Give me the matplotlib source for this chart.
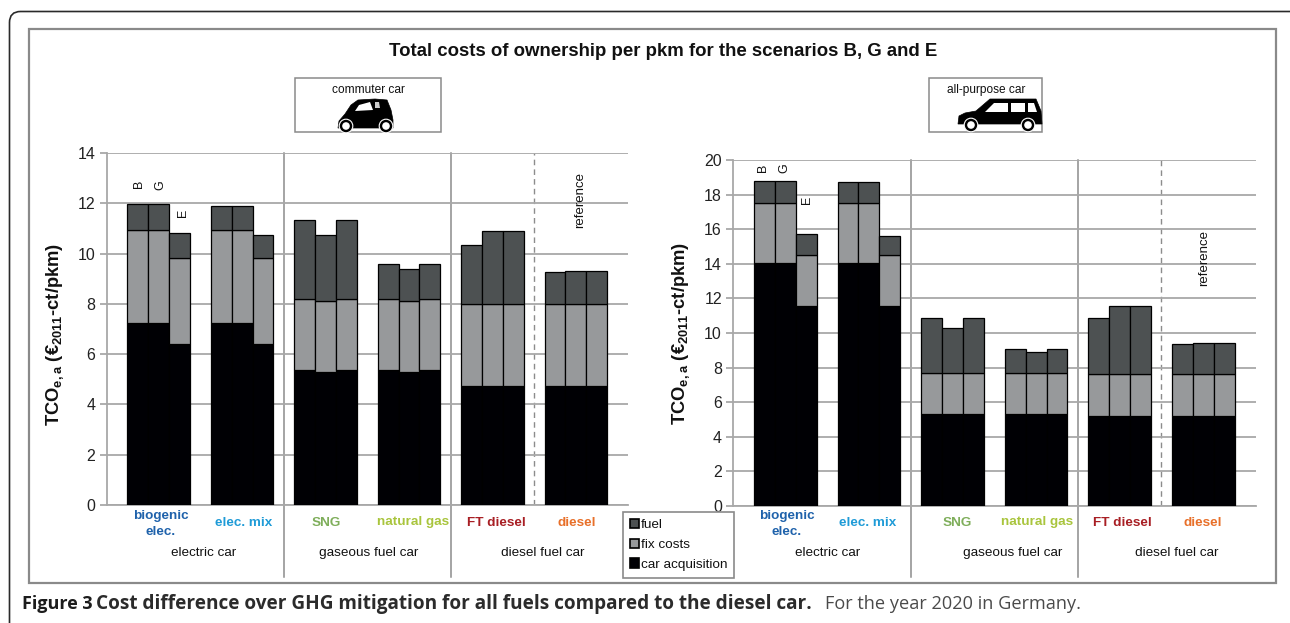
import matplotlib
matplotlib.use("Agg")
import matplotlib.pyplot as plt
import numpy as np
from matplotlib.patches import FancyBboxPatch, Rectangle, Circle, Polygon, Patch

plt.rcParams['font.family'] = ['Liberation Sans', 'DejaVu Sans']
plt.rcParams['mathtext.fontset'] = 'custom'
plt.rcParams['mathtext.bf'] = 'Liberation Sans:bold'
plt.rcParams['mathtext.rm'] = 'Liberation Sans'

# ---------- data (three bars per group: scenarios B, G, E) ----------
categories = ["biogenic\nelec.", "elec. mix", "SNG", "natural gas", "FT diesel", "diesel"]
cat_colors = ["#1f62ab", "#1f9bd7", "#7fae5b", "#a9c53d", "#a81f24", "#e8702a"]
groups = ["electric car", "gaseous fuel car", "diesel fuel car"]
scenarios = ["B", "G", "E"]
series = ["fuel", "fix costs", "car acquisition"]

left_car = [7.25, 7.25, 6.40, 7.25, 7.25, 6.40, 5.37, 5.28, 5.37,
            5.37, 5.28, 5.37, 4.72, 4.72, 4.72, 4.72, 4.72, 4.72]
left_fix = [3.68, 3.68, 3.43, 3.68, 3.68, 3.43, 2.83, 2.84, 2.83,
            2.83, 2.84, 2.83, 3.28, 3.28, 3.28, 3.28, 3.28, 3.28]
left_fuel = [1.04, 1.04, 0.97, 0.95, 0.95, 0.89, 3.12, 2.61, 3.12,
             1.38, 1.25, 1.38, 2.35, 2.90, 2.90, 1.27, 1.30, 1.30]

right_car = [14.05, 14.05, 11.55, 14.05, 14.05, 11.55, 5.30, 5.30, 5.30,
             5.30, 5.30, 5.30, 5.20, 5.20, 5.20, 5.20, 5.20, 5.20]
right_fix = [3.45, 3.45, 2.95, 3.45, 3.45, 2.95, 2.40, 2.40, 2.40,
             2.40, 2.40, 2.40, 2.45, 2.45, 2.45, 2.45, 2.45, 2.45]
right_fuel = [1.30, 1.30, 1.20, 1.20, 1.20, 1.10, 3.15, 2.60, 3.15,
              1.40, 1.20, 1.40, 3.20, 3.90, 3.90, 1.72, 1.77, 1.77]

colors = {"fuel": "#4d5152", "fix costs": "#97999b", "car acquisition": "#000004"}
GRID = "#a8a8a8"

fig = plt.figure(figsize=(12.9, 6.23), dpi=100, facecolor="white")
W, H = 1290, 623

ov = fig.add_axes([0, 0, 1, 1], zorder=0)
ov.set_xlim(0, W); ov.set_ylim(H, 0); ov.axis("off")
top = fig.add_axes([0, 0, 1, 1], zorder=5)
top.set_xlim(0, W); top.set_ylim(H, 0); top.axis("off"); top.patch.set_alpha(0)

ov.add_patch(FancyBboxPatch((9.5, 11.5), 1400, 800, boxstyle="round,pad=0,rounding_size=11",
                            fc="white", ec="#2a2a2a", lw=1.2, mutation_aspect=1))
ov.add_patch(Rectangle((29, 29), 1247, 554, fc="white", ec="#8a8a8a", lw=1.6))


def make_panel(x0, x1, ytop, ybot, ymax, step, car, fix, fuel):
    ax = fig.add_axes([x0 / W, 1 - ybot / H, (x1 - x0) / W, (ybot - ytop) / H], zorder=2)
    ax.patch.set_alpha(0)
    ax.set_xlim(0, 25); ax.set_ylim(0, ymax)
    xs = []
    for g in range(6):
        xs += [1.5 + 4 * g, 2.5 + 4 * g, 3.5 + 4 * g]
    xs = np.array(xs)
    car, fix, fuel = map(np.array, (car, fix, fuel))
    kw = dict(width=1, edgecolor="black", linewidth=0.9, zorder=3)
    ax.bar(xs, car, color=colors["car acquisition"], **kw)
    ax.bar(xs, fix, bottom=car, color=colors["fix costs"], **kw)
    ax.bar(xs, fuel, bottom=car + fix, color=colors["fuel"], **kw)
    ax.set_yticks(np.arange(0, ymax + 1, step))
    ax.set_xticks([])
    ax.tick_params(axis="y", length=5, width=1.3, color=GRID, labelsize=11.5, pad=3, labelcolor="#222222")
    ax.grid(axis="y", color=GRID, lw=1.3, zorder=0)
    for s in ("top", "right"):
        ax.spines[s].set_visible(False)
    for s in ("left", "bottom"):
        ax.spines[s].set_color(GRID); ax.spines[s].set_linewidth(1.3)
    ax.axvline(20.5, color="#8c8c8c", lw=1.0, ls=(0, (4, 3)), zorder=1)
    for v in (8.5, 16.5):
        px = x0 + v * (x1 - x0) / 25
        ov.plot([px, px], [ytop, 577], color="#8c8c8c", lw=1.1, zorder=1)
    return ax


axL = make_panel(106.5, 628, 153, 505, 14, 2, left_car, left_fix, left_fuel)
axR = make_panel(733, 1255.5, 160, 506, 20, 2, right_car, right_fix, right_fuel)

top.text(663, 51, "Total costs of ownership per pkm for the scenarios B, G and E",
         ha="center", va="center", fontsize=13.45, fontweight="bold", color="#111111")
ylab = r"TCO$_{\mathbf{e,a}}$ (€$_{\mathbf{2011}}$-ct/pkm)"
top.text(55, 334, ylab, rotation=90, ha="center", va="center", fontsize=13.2, fontweight="bold", color="#111111")
top.text(681, 333, ylab, rotation=90, ha="center", va="center", fontsize=13.2, fontweight="bold", color="#111111")

cat_left = [160.5, 243.5, 326, 413, 496, 577]
cat_right = [787, 868, 957, 1037, 1122, 1203]
for xs_ in (cat_left, cat_right):
    for c, col, x in zip(categories, cat_colors, xs_):
        y = 524 if "\n" in c else 522.5
        top.text(x, y, c, ha="center", va="center", fontsize=9.7, fontweight="bold",
                 color=col, linespacing=1.45)
for x, g in zip([204, 369, 542.5], groups):
    top.text(x, 553, g, ha="center", va="center", fontsize=9.7, color="#111111")
for x, g in zip([828, 1013, 1177], groups):
    top.text(x, 553, g, ha="center", va="center", fontsize=9.7, color="#111111")

for x, y, s in zip([139, 160, 183], [184, 185, 213], scenarios):
    top.text(x, y, s, rotation=90, ha="center", va="center", fontsize=9, color="#111111")
for x, y, s in zip([763, 784, 807], [168, 168, 200], scenarios):
    top.text(x, y, s, rotation=90, ha="center", va="center", fontsize=9, color="#111111")
top.text(580, 200, "reference", rotation=90, ha="center", va="center", fontsize=9.5, color="#111111")
top.text(1204, 258, "reference", rotation=90, ha="center", va="center", fontsize=9.5, color="#111111")

handles = [Patch(facecolor=colors[s], edgecolor="black", linewidth=1.2, label=s) for s in series]
leg = fig.legend(handles=handles, loc="upper left", bbox_to_anchor=(623 / W, 1 - 512 / H),
                 fontsize=9.7, frameon=True, fancybox=False, edgecolor="#8a8a8a", framealpha=1,
                 handlelength=0.7, handleheight=0.7, handletextpad=0.15, labelspacing=0.55,
                 borderpad=0.5, borderaxespad=0, labelcolor="#111111")
leg.set_zorder(6)
leg.get_frame().set_linewidth(1.2)

top.add_patch(Rectangle((295, 78), 146, 54, fc="white", ec="#8a8a8a", lw=1.1))
top.add_patch(Rectangle((929, 78), 113, 54, fc="white", ec="#8a8a8a", lw=1.1))
top.text(368, 90, "commuter car", ha="center", va="center", fontsize=8.6, color="#111111")
top.text(986, 90, "all-purpose car", ha="center", va="center", fontsize=8.6, color="#111111")

top.add_patch(Polygon([(338, 128), (339, 121), (345, 114), (351, 105), (358, 100), (375, 99),
                       (387, 100), (391, 110), (393, 120), (393, 128)], fc="black", ec="black", lw=0.5))
top.add_patch(Polygon([(355, 111), (359, 105), (370, 102), (373, 110)], fc="white", ec="none"))
top.add_patch(Polygon([(375, 102), (379, 102), (380, 108), (375, 108)], fc="#cccccc", ec="none"))
for cx in (346, 386):
    top.add_patch(Circle((cx, 126), 6.8, fc="black", ec="white", lw=0.8))
    top.add_patch(Circle((cx, 126), 3.8, fc="white", ec="none"))

top.add_patch(Polygon([(958, 124), (959, 116), (965, 113), (976, 111), (990, 99), (1036, 99),
                       (1041, 111), (1042, 124)], fc="black", ec="black", lw=0.5))
top.add_patch(Polygon([(985, 112), (994, 103), (1008, 103), (1008, 112)], fc="white", ec="none"))
top.add_patch(Polygon([(1011, 103), (1025, 103), (1025, 112), (1011, 112)], fc="white", ec="none"))
top.add_patch(Polygon([(1028, 103), (1034, 103), (1037, 112), (1028, 112)], fc="white", ec="none"))
for cx in (971, 1028):
    top.add_patch(Circle((cx, 125), 6.8, fc="black", ec="white", lw=0.8))
    top.add_patch(Circle((cx, 125), 3.8, fc="white", ec="none"))

top.text(22, 609, "Figure 3", ha="left", va="baseline", fontsize=13, fontweight="bold",
         family="Open Sans", color="#1c1c1c")
top.text(96, 609, "Cost difference over GHG mitigation for all fuels compared to the diesel car.",
         ha="left", va="baseline", fontsize=13.7, fontweight="bold", family="Open Sans", color="#2b2b2b")
top.text(825, 609, "For the year 2020 in Germany.", ha="left", va="baseline", fontsize=13.1,
         family="Open Sans", color="#4a4a4a")

fig.savefig("out.png", dpi=100)
